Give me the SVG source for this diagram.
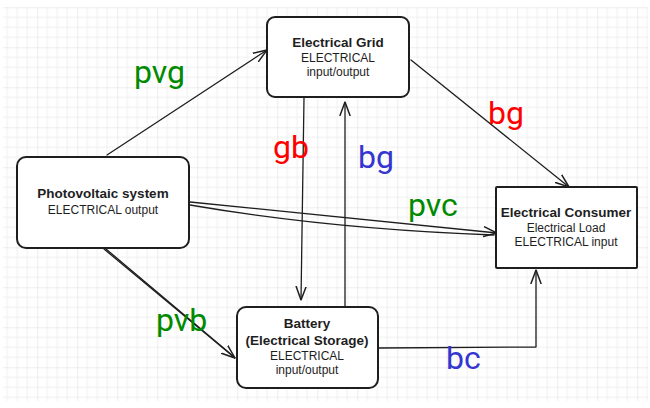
<svg xmlns="http://www.w3.org/2000/svg" width="650" height="408" viewBox="0 0 650 408">
<style>
.box{fill:#ffffff;stroke:#1e1e1e;stroke-width:2}
.edge{fill:none;stroke:#1e1e1e;stroke-width:1.3;stroke-linecap:round;stroke-linejoin:round}
.t{font-family:"Liberation Sans",Arial,sans-serif;font-size:12px;fill:#1e1e1e;text-anchor:middle}
.b{font-weight:bold;font-size:13.5px}
.lbl{font-family:Roboto,"DejaVu Sans",sans-serif;font-size:32px}
.g{fill:#008a00}.r{fill:#ff0000}.u{fill:#3535d0}
</style>
<defs>
<pattern id="grid" patternUnits="userSpaceOnUse" x="-2.7" y="7.3" width="40" height="40">
<path d="M10,0V40M20,0V40M30,0V40M0,10H40M0,20H40M0,30H40" stroke="#efefef" stroke-width="1" fill="none"/>
<path d="M0,0V40M0,0H40" stroke="#dcdcdc" stroke-width="1" fill="none"/>
</pattern>
<marker id="ah" viewBox="0 0 14 12" refX="13.5" refY="6" markerWidth="14" markerHeight="12" markerUnits="userSpaceOnUse" orient="auto">
<path d="M0,1 L13.5,6 L0,11" fill="none" stroke="#1e1e1e" stroke-width="1.5" stroke-linecap="round"/>
</marker>
</defs>
<rect x="0" y="0" width="650" height="408" fill="#ffffff"/>
<rect x="3" y="7" width="645" height="394" fill="url(#grid)"/>
<g id="connectors">
<path class="edge" d="M107,155 L267,50" marker-end="url(#ah)"/>
<path class="edge" d="M411,60 L569,187" marker-end="url(#ah)"/>
<path class="edge" d="M304,98 L301,300" marker-end="url(#ah)"/>
<path class="edge" d="M345,307 L345,102" marker-end="url(#ah)"/>
<path class="edge" d="M190,202 L497,233" marker-end="url(#ah)"/>
<path class="edge" d="M190,205 Q330,229 494,235"/>
<path class="edge" d="M104,249 L235,358" marker-end="url(#ah)"/>
<path class="edge" d="M106,249 L233,356"/>
<path class="edge" d="M379,348 L536,347 L536,270" marker-end="url(#ah)"/>
</g>
<g id="grid-node">
<rect class="box" x="267" y="17" width="142" height="80" rx="8"/>
<text class="t b" x="338" y="47">Electrical Grid</text>
<text class="t" x="338" y="62">ELECTRICAL</text>
<text class="t" x="338" y="76">input/output</text>
</g>
<g id="pv-node">
<rect class="box" x="17" y="157" width="172" height="91" rx="9"/>
<text class="t b" x="103" y="198">Photovoltaic system</text>
<text class="t" x="103" y="214">ELECTRICAL output</text>
</g>
<g id="consumer-node">
<rect class="box" x="496" y="187" width="141" height="81" rx="1"/>
<text class="t b" x="566" y="217">Electrical Consumer</text>
<text class="t" x="566" y="232">Electrical Load</text>
<text class="t" x="566" y="246">ELECTRICAL input</text>
</g>
<g id="battery-node">
<rect class="box" x="237" y="307" width="141" height="81" rx="9"/>
<text class="t b" x="307" y="328">Battery</text>
<text class="t b" x="307" y="345">(Electrical Storage)</text>
<text class="t" x="307" y="360">ELECTRICAL</text>
<text class="t" x="307" y="374">input/output</text>
</g>
<g id="labels">
<text class="lbl g" x="134" y="83">pvg</text>
<text class="lbl r" x="273" y="158">gb</text>
<text class="lbl u" x="358" y="168">bg</text>
<text class="lbl g" x="408" y="216">pvc</text>
<text class="lbl r" x="488" y="124">bg</text>
<text class="lbl g" x="156" y="331">pvb</text>
<text class="lbl u" x="446" y="369">bc</text>
</g>
</svg>
